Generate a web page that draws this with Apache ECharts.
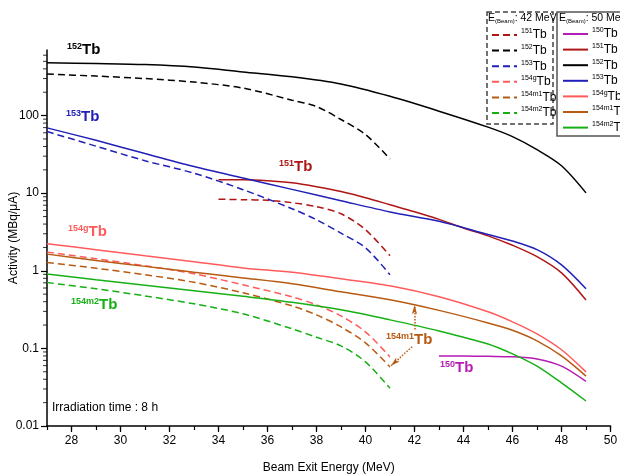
<!DOCTYPE html>
<html>
<head>
<meta charset="utf-8">
<script src="https://cdn.jsdelivr.net/npm/echarts@6/dist/echarts.min.js"></script>
<style>
  html, body { margin: 0; padding: 0; background: #fff; }
  #main { width: 620px; height: 475px; }
</style>
</head>
<body>
<div id="main"></div>
<script>
// exit energies (MeV)
var e50 = [27, 29, 31, 33, 35, 37, 39, 41, 43, 45, 46, 47, 48, 49];
var e50Tb151 = [34, 35, 36, 37, 38, 39, 40, 41, 42, 43, 44, 45, 46, 47, 48, 49];
var e50Tb150 = [43, 44, 45, 46, 47, 48, 49];
var e42 = [27, 29, 31, 33, 35, 37, 38, 39, 40, 41];
var e42Tb151 = [34, 35, 36, 37, 38, 39, 40, 41];

// activities (MBq/uA), E(beam) = 50 MeV
var tb150_50 = [0.08, 0.0797, 0.079, 0.078, 0.073, 0.059, 0.0375];
var tb151_50 = [14.9, 14.9, 14.5, 13.6, 12.1, 10.5, 8.75, 7.11, 5.77, 4.6, 3.55, 2.82, 2.13, 1.52, 0.94, 0.42];
var tb152_50 = [479, 469, 455, 423, 365, 316, 255, 177, 114, 71, 53.6, 36.4, 22.6, 10.1];
var tb153_50 = [69.4, 48.0, 32.4, 22.1, 15.7, 11.2, 8.0, 5.74, 4.34, 2.94, 2.42, 1.87, 1.19, 0.586];
var tb154g_50 = [2.23, 1.87, 1.56, 1.31, 1.09, 0.957, 0.789, 0.64, 0.462, 0.296, 0.22, 0.154, 0.096, 0.0498];
var tb154m1_50 = [1.64, 1.36, 1.14, 0.957, 0.81, 0.68, 0.536, 0.423, 0.309, 0.213, 0.171, 0.125, 0.08, 0.044];
var tb154m2_50 = [0.906, 0.765, 0.65, 0.552, 0.469, 0.393, 0.314, 0.233, 0.168, 0.114, 0.085, 0.059, 0.0359, 0.021];

// activities (MBq/uA), E(beam) = 42 MeV
var tb151_42 = [8.37, 8.24, 8.1, 7.54, 6.7, 5.43, 3.38, 1.56];
var tb152_42 = [343, 323, 300, 270, 226, 158, 131, 89, 57, 27.6];
var tb153_42 = [62.2, 40.4, 26.2, 18.1, 11.1, 6.31, 4.55, 3.05, 1.98, 0.888];
var tb154g_42 = [1.74, 1.43, 1.16, 0.915, 0.659, 0.462, 0.364, 0.262, 0.163, 0.0777];
var tb154m1_42 = [1.28, 1.08, 0.888, 0.711, 0.52, 0.353, 0.27, 0.189, 0.118, 0.0577];
var tb154m2_42 = [0.706, 0.586, 0.475, 0.375, 0.279, 0.179, 0.139, 0.108, 0.067, 0.0306];

// minor ticks of the log axis
var yMinorTicks = [0.02, 0.03, 0.04, 0.05, 0.06, 0.07, 0.08, 0.09,
  0.2, 0.3, 0.4, 0.5, 0.6, 0.7, 0.8, 0.9, 2, 3, 4, 5, 6, 7, 8, 9,
  20, 30, 40, 50, 60, 70, 80, 90, 200, 300, 400, 500, 600];

var FONT = 'Liberation Sans, Arial, sans-serif';
var C = {
  '150': '#b51cb5', '151': '#b01515', '152': '#000000', '153': '#2020b8',
  '154g': '#ff5b5b', '154m1': '#b85a12', '154m2': '#16b016'
};

function pairs(xs, ys) {
  return xs.map(function (x, i) { return [x, ys[i]]; });
}

function curve(iso, beam, xs, ys) {
  var dashed = beam === 42;
  return {
    name: beam + ' ' + iso,
    type: 'line',
    data: pairs(xs, ys),
    symbol: 'none',
    smooth: 0.3,
    silent: true,
    z: dashed ? 2 : 3,
    itemStyle: { color: C[iso] },
    lineStyle: { color: C[iso], width: 1.5, type: dashed ? [7, 4] : 'solid' }
  };
}

var series = [
  curve('151', 42, e42Tb151, tb151_42),
  curve('152', 42, e42, tb152_42),
  curve('153', 42, e42, tb153_42),
  curve('154g', 42, e42, tb154g_42),
  curve('154m1', 42, e42, tb154m1_42),
  curve('154m2', 42, e42, tb154m2_42),
  curve('150', 50, e50Tb150, tb150_50),
  curve('151', 50, e50Tb151, tb151_50),
  curve('152', 50, e50, tb152_50),
  curve('153', 50, e50, tb153_50),
  curve('154g', 50, e50, tb154g_50),
  curve('154m1', 50, e50, tb154m1_50),
  curve('154m2', 50, e50, tb154m2_50)
];

// dotted arrows pointing from the 154m1Tb label to both curves
series[11].markLine = {
  silent: true,
  symbol: ['none', 'arrow'],
  symbolSize: [4, 9],
  label: { show: false },
  lineStyle: { color: C['154m1'], width: 1.5, type: 'dotted' },
  data: [
    [{ coord: [42, 0.175] }, { coord: [42, 0.36] }],
    [{ coord: [41.9, 0.105] }, { coord: [41.05, 0.06] }]
  ]
};

series.push({
  name: 'minor',
  type: 'scatter',
  data: yMinorTicks.map(function (v) { return [27, v]; }),
  symbol: 'rect',
  symbolSize: [4, 1],
  symbolOffset: [-2, 0],
  itemStyle: { color: '#000' },
  clip: false,
  silent: true,
  z: 10
});

var legendRich = {
  s: { fontSize: 7, fontFamily: FONT, verticalAlign: 'top', lineHeight: 8, color: '#000' },
  t: { fontSize: 12, fontFamily: FONT, lineHeight: 14, color: '#000' }
};
function legendText(name) {
  return '{s|' + name.split(' ')[1] + '}{t|Tb}';
}
function legend(beam, isos, left, top) {
  return {
    data: isos.map(function (i) { return beam + ' ' + i; }),
    orient: 'vertical',
    left: left,
    top: top,
    itemWidth: 25,
    itemHeight: 10,
    itemGap: 2.6,
    selectedMode: false,
    itemStyle: { opacity: 0 },
    formatter: legendText,
    textStyle: { rich: legendRich, padding: [0, 0, 0, -1] }
  };
}

var titleRich = {
  e: { fontSize: 10.5, fontFamily: FONT, color: '#000' },
  b: { fontSize: 6, fontFamily: FONT, color: '#000', verticalAlign: 'bottom', lineHeight: 8 }
};

function label(sup, x, y, color) {
  return {
    type: 'text', x: x, y: y, silent: true, z: 100,
    style: {
      text: '{s|' + sup + '}{t|Tb}',
      verticalAlign: 'middle',
      rich: {
        s: { fontSize: 9, fontWeight: 'bold', fontFamily: FONT, fill: color, verticalAlign: 'top', lineHeight: 10 },
        t: { fontSize: 15, fontWeight: 'bold', fontFamily: FONT, fill: color, lineHeight: 16 }
      }
    }
  };
}

var chart = echarts.init(document.getElementById('main'));
chart.setOption({
  animation: false,
  backgroundColor: '#fff',
  title: [
    { text: 'E{b|(Beam)}{e|: 42 MeV}', left: 488, top: 13, padding: 0,
      textStyle: { fontSize: 10.5, fontFamily: FONT, fontWeight: 'normal', color: '#000', rich: titleRich } },
    { text: 'E{b|(Beam)}{e|: 50 MeV}', left: 559, top: 13, padding: 0,
      textStyle: { fontSize: 10.5, fontFamily: FONT, fontWeight: 'normal', color: '#000', rich: titleRich } }
  ],
  legend: [
    legend(42, ['151', '152', '153', '154g', '154m1', '154m2'], 486, 23),
    legend(50, ['150', '151', '152', '153', '154g', '154m1', '154m2'], 557, 22)
  ],
  grid: { left: 47, right: 9.5, top: 50, bottom: 49, outerBoundsMode: 'none' },
  xAxis: [
    {
      type: 'value', min: 27, max: 50, interval: 1,
      splitLine: { show: false },
      axisLine: { lineStyle: { color: '#000', width: 1.5 } },
      axisTick: { length: 4, lineStyle: { color: '#000', width: 1.2 } },
      axisLabel: { show: false }
    },
    {
      type: 'value', min: 27, max: 50, splitNumber: 11, minInterval: 2, maxInterval: 2,
      position: 'bottom',
      splitLine: { show: false },
      axisLine: { show: false },
      axisTick: { length: 6, lineStyle: { color: '#000', width: 1.2 } },
      axisLabel: { showMinLabel: false, color: '#000', fontSize: 12, fontFamily: FONT, margin: 9 },
      name: 'Beam Exit Energy (MeV)',
      nameLocation: 'middle',
      nameGap: 36,
      nameTextStyle: { color: '#000', fontSize: 12, fontFamily: FONT }
    }
  ],
  yAxis: {
    type: 'log', logBase: 10, min: 0.01, max: 700,
    splitLine: { show: false },
    axisLine: { lineStyle: { color: '#000', width: 1.5 } },
    axisTick: { length: 6, lineStyle: { color: '#000', width: 1.2 } },
    axisLabel: { showMaxLabel: false, color: '#000', fontSize: 12, fontFamily: FONT, margin: 8 },
    name: 'Activity (MBq/μA)',
    nameLocation: 'middle',
    nameGap: 27,
    nameMoveOverlap: false,
    nameTextStyle: { color: '#000', fontSize: 12, fontFamily: FONT }
  },
  graphic: [
    { type: 'rect', silent: true, shape: { x: 487, y: 12, width: 66, height: 112 },
      style: { fill: 'none', stroke: '#444', lineWidth: 1.5, lineDash: [5, 3] } },
    { type: 'rect', silent: true, shape: { x: 557, y: 12, width: 70, height: 124 },
      style: { fill: 'none', stroke: '#555', lineWidth: 1.5 } },
    label('152', 67, 50, C['152']),
    label('153', 66, 117, C['153']),
    label('151', 279, 167, C['151']),
    label('154g', 68, 232, C['154g']),
    label('154m2', 71, 305, C['154m2']),
    label('154m1', 386, 340, C['154m1']),
    label('150', 440, 368, C['150']),
    { type: 'text', x: 52, y: 408, silent: true,
      style: { text: 'Irradiation time : 8 h', verticalAlign: 'middle', fontSize: 12, fontFamily: FONT, fill: '#000' } }
  ],
  series: series
});
</script>
</body>
</html>
